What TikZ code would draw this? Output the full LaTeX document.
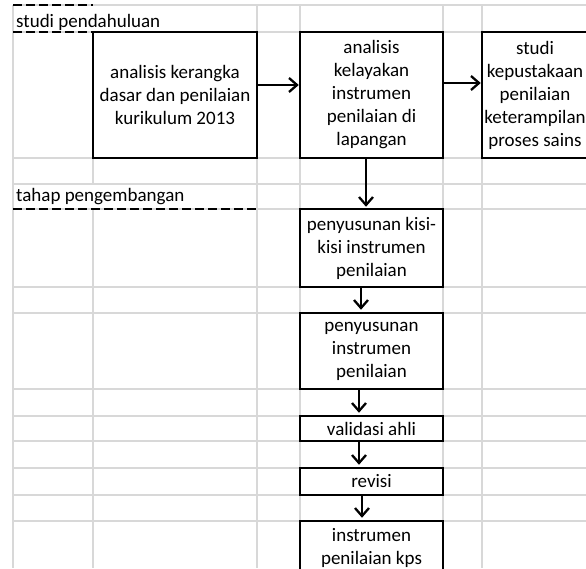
\documentclass[tikz,border=0pt]{standalone}
\usepackage{fontspec}
\setmainfont{Carlito}
\usetikzlibrary{arrows.meta}
\definecolor{gridgray}{RGB}{216,216,216}
\begin{document}
\begin{tikzpicture}[x=1pt,y=-1pt,
  gridline/.style={draw=gridgray, line width=1.3pt},
  dashline/.style={draw=black, line width=2.5pt, dash pattern=on 9pt off 4pt},
  cellbox/.style={draw=black, line width=2.5pt, fill=white, inner sep=0pt,
    align=center, font=\fontsize{19}{23}\selectfont},
  label/.style={anchor=base west, inner sep=0pt, font=\fontsize{19}{23}\selectfont},
  arr/.style={draw=black, line width=2.3pt, -{Straight Barb[length=8pt,width=14pt]}}
]
\clip (0,0) rectangle (586,568);
\fill[white] (0,0) rectangle (586,568);
% gridlines
\foreach \y in {5,32,158,184,209,287,313,389,416,441,468,495,521}
  \draw[gridline] (13,\y) -- (586,\y);
\foreach \x in {13,257,300,443,482}
  \draw[gridline] (\x,5) -- (\x,568);
\draw[gridline] (93,32) -- (93,184);
\draw[gridline] (93,209) -- (93,568);
% dashed section lines
\draw[dashline] (13,5) -- (93,5);
\draw[dashline] (13,32) -- (93,32);
\draw[dashline] (13,209) -- (257,209);
% section labels
\node[label] (l1) at (16,27) {studi pendahuluan};
\node[label] (l2) at (16,201) {tahap pengembangan};
% boxes
\node[cellbox, minimum width=164pt, minimum height=126pt] (b1) at (175,95)
  {analisis kerangka\\dasar dan penilaian\\kurikulum 2013};
\node[cellbox, minimum width=143pt, minimum height=126pt] (b2) at (371.5,95)
  {analisis\\kelayakan\\instrumen\\penilaian di\\lapangan};
\node[cellbox, minimum width=106pt, minimum height=126pt] (b3) at (535,95)
  {studi\\kepustakaan\\penilaian\\keterampilan\\proses sains};
\node[cellbox, minimum width=143pt, minimum height=78pt] (b5) at (371.5,248)
  {penyusunan kisi-\\kisi instrumen\\penilaian};
\node[cellbox, minimum width=143pt, minimum height=76pt] (b7) at (371.5,351)
  {penyusunan\\instrumen\\penilaian};
\node[cellbox, minimum width=143pt, minimum height=25pt] (b9) at (371.5,428.5)
  {validasi ahli};
\node[cellbox, minimum width=143pt, minimum height=27pt] (b11) at (371.5,481.5)
  {revisi};
\node[cellbox, minimum width=143pt, minimum height=54pt] (b13) at (371.5,548)
  {instrumen\\penilaian kps};
% connectors
\draw[arr] ([yshift=10pt]b1.east) -- ([yshift=10pt]b2.west);
\draw[arr] ([yshift=12pt]b2.east) -- ([yshift=12pt]b3.west);
\draw[arr] ([xshift=-5.5pt]b2.south) -- ([xshift=-5.5pt,yshift=1pt]b5.north);
\draw[arr] ([xshift=-10.5pt]b5.south) -- ([xshift=-10.5pt,yshift=2pt]b7.north);
\draw[arr] ([xshift=-12.5pt]b7.south) -- ([xshift=-12.5pt,yshift=2pt]b9.north);
\draw[arr] ([xshift=-12.5pt]b9.south) -- ([xshift=-12.5pt,yshift=2pt]b11.north);
\draw[arr] ([xshift=-9.5pt]b11.south) -- ([xshift=-9.5pt,yshift=2pt]b13.north);
\end{tikzpicture}
\end{document}
